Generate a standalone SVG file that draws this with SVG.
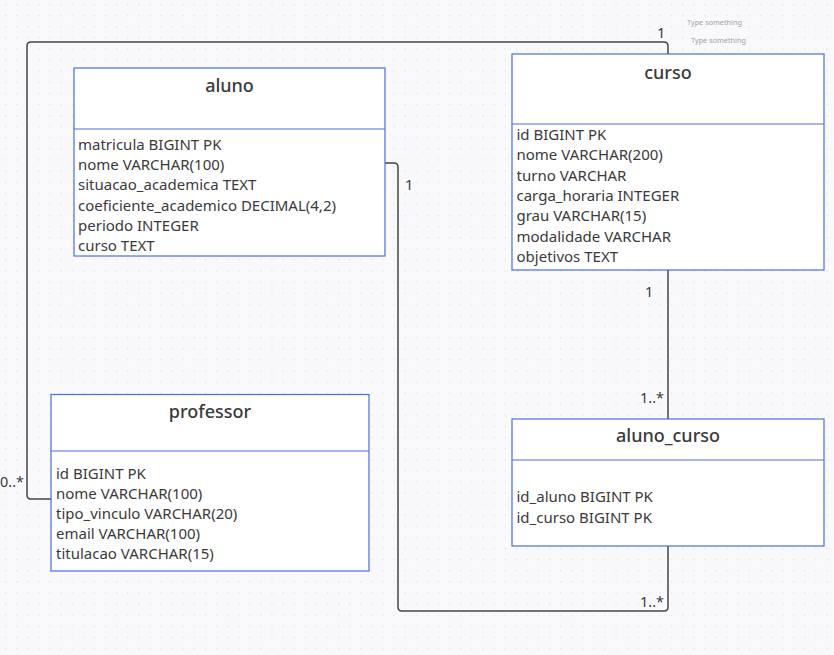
<svg xmlns="http://www.w3.org/2000/svg" width="834" height="655" viewBox="0 0 834 655">
<defs>
<pattern id="dots" x="5" y="4" width="11.1" height="11.1" patternUnits="userSpaceOnUse">
<rect x="0" y="0" width="1.2" height="1.2" fill="#dcdce4"/>
</pattern>
<style>
.box{fill:#ffffff;stroke:#4a6ee0;stroke-width:1.2}
.div{stroke:#4a6ee0;stroke-width:1.2}
.title{font-family:"Noto Sans","Open Sans",sans-serif;font-size:18px;font-weight:500;fill:#3a3a3a;text-anchor:middle}
.attr{font-family:"Noto Sans","Open Sans",sans-serif;font-size:15px;fill:#3a3a3a}
.lbl{font-family:"Noto Sans","Open Sans",sans-serif;font-size:14.5px;fill:#3a3a3a}
.hint{font-family:"Noto Sans","Open Sans",sans-serif;font-size:7.3px;fill:#a0a0a8}
.conn{fill:none;stroke:#444;stroke-width:1.5}
</style>
</defs>
<rect width="834" height="655" fill="#f9f9fb"/>
<rect width="834" height="655" fill="url(#dots)"/>

<g id="connectors">
<path class="conn" d="M668 54 V46 Q668 42 664 42 H31 Q27 42 27 46 V495 Q27 499 31 499 H51"/>
<path class="conn" d="M385 163 H394 Q398 163 398 167 V607 Q398 611 402 611 H664 Q668 611 668 607 V546"/>
<path class="conn" d="M668 270 V419"/>
<text class="lbl" x="657" y="38">1</text>
<text class="lbl" x="0" y="487">0..*</text>
<text class="lbl" x="405" y="190">1</text>
<text class="lbl" x="645" y="297">1</text>
<text class="lbl" x="640" y="403">1..*</text>
<text class="lbl" x="640" y="607">1..*</text>
</g>

<g id="aluno">
<rect class="box" x="74" y="68" width="311" height="188"/>
<line class="div" x1="74" y1="129" x2="385" y2="129"/>
<text class="title" x="229.5" y="91.5">aluno</text>
<text class="attr" x="78" y="150">matricula BIGINT PK</text>
<text class="attr" x="78" y="170">nome VARCHAR(100)</text>
<text class="attr" x="78" y="190">situacao_academica TEXT</text>
<text class="attr" x="78" y="210.5">coeficiente_academico DECIMAL(4,2)</text>
<text class="attr" x="78" y="230.5">periodo INTEGER</text>
<text class="attr" x="78" y="250.5">curso TEXT</text>
</g>

<g id="curso">
<rect class="box" x="512" y="54" width="312" height="216"/>
<line class="div" x1="512" y1="124" x2="824" y2="124"/>
<text class="title" x="668" y="78.5">curso</text>
<text class="attr" x="516.5" y="140">id BIGINT PK</text>
<text class="attr" x="516.5" y="160">nome VARCHAR(200)</text>
<text class="attr" x="516.5" y="180.5">turno VARCHAR</text>
<text class="attr" x="516.5" y="201">carga_horaria INTEGER</text>
<text class="attr" x="516.5" y="221">grau VARCHAR(15)</text>
<text class="attr" x="516.5" y="241.5">modalidade VARCHAR</text>
<text class="attr" x="516.5" y="262">objetivos TEXT</text>
</g>

<g id="professor">
<rect class="box" x="51" y="394.5" width="318" height="176.5"/>
<line class="div" x1="51" y1="451" x2="369" y2="451"/>
<text class="title" x="210" y="417.5">professor</text>
<text class="attr" x="56" y="479">id BIGINT PK</text>
<text class="attr" x="56" y="499">nome VARCHAR(100)</text>
<text class="attr" x="56" y="519">tipo_vinculo VARCHAR(20)</text>
<text class="attr" x="56" y="539">email VARCHAR(100)</text>
<text class="attr" x="56" y="559">titulacao VARCHAR(15)</text>
</g>

<g id="aluno_curso">
<rect class="box" x="512" y="419" width="312" height="127"/>
<line class="div" x1="512" y1="460" x2="824" y2="460"/>
<text class="title" x="668" y="441.5">aluno_curso</text>
<text class="attr" x="516.5" y="502">id_aluno BIGINT PK</text>
<text class="attr" x="516.5" y="522.5">id_curso BIGINT PK</text>
</g>

<text class="hint" x="687" y="25">Type something</text>
<text class="hint" x="691" y="43">Type something</text>
</svg>
